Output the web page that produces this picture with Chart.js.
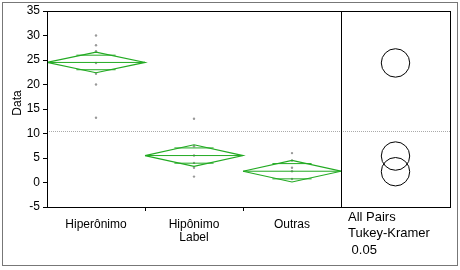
<!DOCTYPE html>
<html>
<head>
<meta charset="utf-8">
<script src="https://cdn.jsdelivr.net/npm/chart.js@4.4.1/dist/chart.umd.min.js"></script>
<style>
  html, body { margin: 0; padding: 0; background: #fff; }
</style>
</head>
<body>
<canvas id="c" width="460" height="270"></canvas>
<script>
// Group labels and summary values
var groups     = ['Hiperônimo', 'Hipônimo', 'Outras'];
var tickLabels = ['Hiperônimo', ['Hipônimo', 'Label'], 'Outras'];
var means      = [24.5, 5.5, 2.3];
var ciHalf     = [2.1, 2.2, 2.2];
var grandMean  = 10.6;

// Raw observations (grey dots)
var hiperPts  = [30, 28, 26.8, 24.4, 22.2, 20, 13.2];
var hipoPts   = [13, 7.4, 5.5, 4, 3, 1.2];
var outrasPts = [6, 4.5, 3, 2.3, 0.7];
var groupPts  = [hiperPts, hipoPts, outrasPts];

// Tukey-Kramer comparison circles
var circleCentres = [24.4, 5.4, 2.2];
var circleRadius  = [2.9, 2.9, 2.9];
var panelText     = ['All Pairs', 'Tukey-Kramer', ' 0.05'];

var green = 'rgb(34,170,34)';
var fontFamily = '"Liberation Sans", Arial, sans-serif';
Chart.defaults.font.family = fontFamily;
Chart.defaults.font.size = 12;
Chart.defaults.color = '#000';

var datasets = [];
groups.forEach(function (g, i) {
    var m = means[i], c = ciHalf[i], o = c / Math.SQRT2;
    // mean diamond
    datasets.push({
        data: [
            { x: i, y: m }, { x: i + 0.5, y: m + c }, { x: i + 1, y: m },
            { x: i + 0.5, y: m - c }, { x: i, y: m }
        ],
        showLine: true, borderColor: green, borderWidth: 1.2, pointRadius: 0, tension: 0
    });
    // mean line + overlap marks
    datasets.push({
        data: [
            { x: i, y: m }, { x: i + 1, y: m }, { x: i + 0.5, y: null },
            { x: i + 0.3, y: m + o }, { x: i + 0.7, y: m + o }, { x: i + 0.5, y: null },
            { x: i + 0.3, y: m - o }, { x: i + 0.7, y: m - o }
        ],
        showLine: true, spanGaps: false, borderColor: green, borderWidth: 1, pointRadius: 0, tension: 0
    });
    // observations
    datasets.push({
        data: groupPts[i].map(function (v) { return { x: i + 0.5, y: v }; }),
        showLine: false, pointRadius: 1.2, pointBackgroundColor: '#999', pointBorderWidth: 0
    });
});

var framePlugin = {
    id: 'frame',
    beforeDatasetsDraw: function (chart) {
        var ctx = chart.ctx, a = chart.chartArea, y = chart.scales.y;
        var py = Math.round(y.getPixelForValue(grandMean)) + 0.5;
        ctx.save();
        ctx.strokeStyle = '#aaa';
        ctx.lineWidth = 1;
        ctx.setLineDash([1, 1]);
        ctx.beginPath();
        ctx.moveTo(a.left, py);
        ctx.lineTo(a.right + 109, py);
        ctx.stroke();
        ctx.restore();
    },
    afterDraw: function (chart) {
        var ctx = chart.ctx, a = chart.chartArea, x = chart.scales.x, y = chart.scales.y;
        var panelRight = a.right + 109;
        ctx.save();
        ctx.strokeStyle = '#000';
        ctx.lineWidth = 1;
        // box around plot + panel, divider
        ctx.strokeRect(a.left + 0.5, a.top + 0.5, panelRight - a.left, a.bottom - a.top);
        ctx.beginPath();
        ctx.moveTo(a.right + 0.5, a.top);
        ctx.lineTo(a.right + 0.5, a.bottom);
        // separator ticks between groups
        [1, 2].forEach(function (v) {
            var px = Math.round(x.getPixelForValue(v)) + 0.5;
            ctx.moveTo(px, a.bottom);
            ctx.lineTo(px, a.bottom + 4);
        });
        ctx.stroke();

        // comparison circles
        var cx = (a.right + panelRight) / 2;
        circleCentres.forEach(function (m, i) {
            var cy = y.getPixelForValue(m);
            var r = Math.abs(y.getPixelForValue(m + circleRadius[i]) - cy);
            ctx.beginPath();
            ctx.arc(cx, cy, r, 0, Math.PI * 2);
            ctx.stroke();
        });

        // panel caption
        ctx.fillStyle = '#000';
        ctx.font = '13px ' + fontFamily;
        ctx.textBaseline = 'middle';
        ctx.textAlign = 'left';
        panelText.forEach(function (t, i) {
            ctx.fillText(t, a.right + 7, 217 + i * 16.5);
        });

        // y axis title, sits a bit above the plot centre
        ctx.font = '12px ' + fontFamily;
        ctx.textAlign = 'center';
        ctx.translate(18, 103);
        ctx.rotate(-Math.PI / 2);
        ctx.fillText('Data', 0, 0);
        ctx.setTransform(1, 0, 0, 1, 0, 0);

        // outer frame
        ctx.strokeStyle = '#777';
        ctx.strokeRect(2.5, 2.5, 455, 263);
        ctx.restore();
    }
};

new Chart(document.getElementById('c'), {
    type: 'scatter',
    data: { datasets: datasets },
    options: {
        responsive: false,
        animation: false,
        layout: { padding: { top: 11, right: 119, bottom: 0, left: 0 } },
        plugins: { legend: { display: false }, tooltip: { enabled: false } },
        scales: {
            x: {
                type: 'linear', min: 0, max: 3,
                afterBuildTicks: function (s) {
                    s.ticks = [0.5, 1.5, 2.5].map(function (v) { return { value: v }; });
                },
                afterFit: function (s) { s.height = 63; },
                ticks: {
                    autoSkip: false, maxRotation: 0, padding: 3,
                    font: { size: 12, lineHeight: 1.1 },
                    callback: function (v, idx) { return tickLabels[idx]; }
                },
                grid: { display: false },
                border: { display: false }
            },
            y: {
                min: -5, max: 35,
                afterFit: function (s) { s.width = 47; },
                ticks: { stepSize: 5, padding: 3, font: { size: 12 } },
                grid: { drawOnChartArea: false, tickLength: 4, color: '#000' },
                border: { display: false }
            }
        }
    },
    plugins: [framePlugin]
});
</script>
</body>
</html>
